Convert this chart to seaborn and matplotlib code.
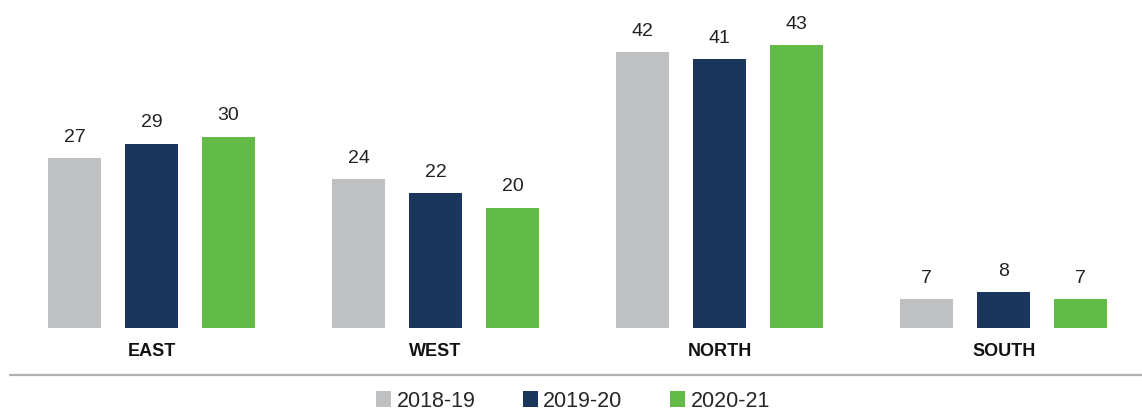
import numpy as np
import pandas as pd
import matplotlib
matplotlib.use("Agg")
import matplotlib.pyplot as plt
import seaborn as sns
from matplotlib.lines import Line2D
from matplotlib.patches import Patch

regions = ["EAST", "WEST", "NORTH", "SOUTH"]
years = ["2018-19", "2019-20", "2020-21"]
vals_2018_19 = [27, 24, 42, 7]
vals_2019_20 = [29, 22, 41, 8]
vals_2020_21 = [30, 20, 43, 7]
colors = ["#BFC0C2", "#1B365D", "#62BB46"]

df = pd.DataFrame({
    "region": regions * 3,
    "year": [years[0]] * 4 + [years[1]] * 4 + [years[2]] * 4,
    "value": vals_2018_19 + vals_2019_20 + vals_2020_21,
})

sns.set_style("white")
plt.rcParams["font.family"] = ["Liberation Sans", "DejaVu Sans"]

fig = plt.figure(figsize=(11.42, 4.15), dpi=100)
ax = fig.add_axes([0, 1 - 327.5 / 415, 1, 327.5 / 415])

sns.barplot(data=df, x="region", y="value", hue="year", order=regions,
            hue_order=years, palette=colors, saturation=1, width=0.813, gap=0.31,
            errorbar=None, linewidth=0, legend=False, ax=ax)

for c in ax.containers:
    ax.bar_label(c, fmt="%d", padding=9, fontsize=14, color="#222222")

ax.set_ylim(3.0, 49.4)
ax.set_xlim(-0.533, 3.486)
ax.set_xlabel("")
ax.set_ylabel("")
ax.set_yticks([])
ax.tick_params(axis="x", length=0, pad=11.5)
for lab in ax.get_xticklabels():
    lab.set_fontweight("bold")
    lab.set_fontsize(13)
    lab.set_color("#111111")
sns.despine(ax=ax, left=True, bottom=True)

# separator line above legend
y_line = 1 - 374.5 / 415
fig.add_artist(Line2D([10 / 1142, 1], [y_line, y_line], color="#AFAFAF", lw=1.6))

handles = [Patch(facecolor=col, edgecolor="none") for col in colors]
fig.legend(handles, years, loc="center", bbox_to_anchor=(573 / 1142, 1 - 401 / 415),
           ncol=3, frameon=False, fontsize=15.5, handlelength=0.7, handleheight=0.7,
           handletextpad=0.25, columnspacing=2.2, borderpad=0)

fig.savefig("out.png", dpi=100)
